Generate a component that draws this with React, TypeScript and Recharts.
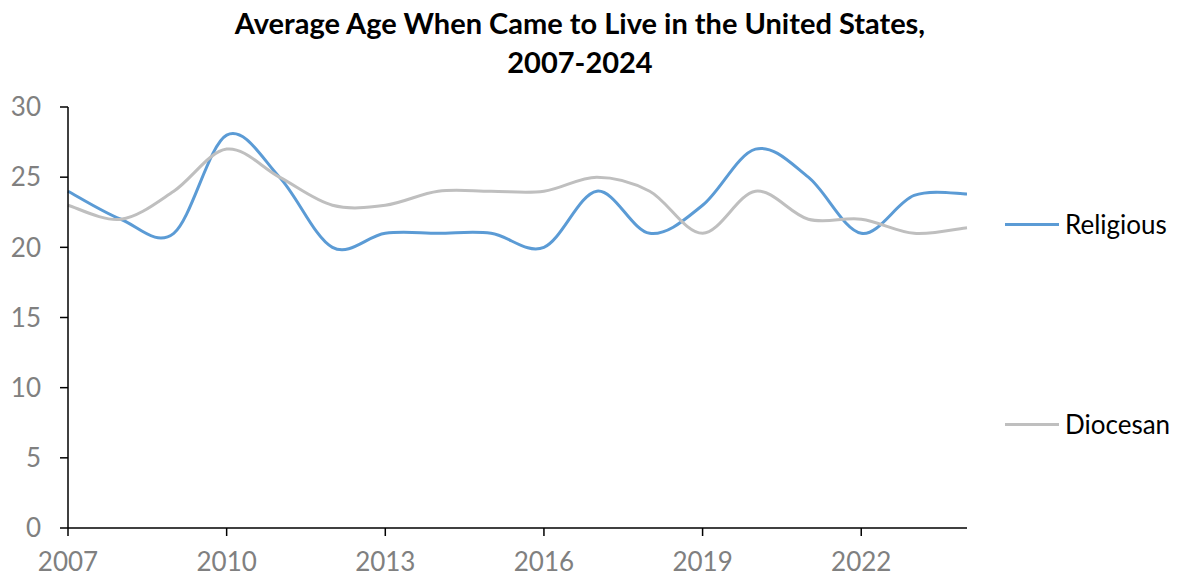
import React from "react"
import { Line, LineChart, XAxis, YAxis, Legend } from "recharts"

const years = [2007, 2008, 2009, 2010, 2011, 2012, 2013, 2014, 2015, 2016, 2017, 2018, 2019, 2020, 2021, 2022, 2023, 2024]
const religious = [24, 22, 21, 28, 25, 20, 21, 21, 21, 20, 24, 21, 23, 27, 25, 21, 23.7, 23.8]
const diocesan = [23, 22, 24, 27, 25, 23, 23, 24, 24, 24, 25, 24, 21, 24, 22, 22, 21, 21.4]
const seriesNames = ["Religious", "Diocesan"]
const xTicks = [2007, 2010, 2013, 2016, 2019, 2022]
const yTicks = [0, 5, 10, 15, 20, 25, 30]

const data = years.map((year, i) => ({ year, religious: religious[i], diocesan: diocesan[i] }))

const FONT = "Lato, 'Open Sans', sans-serif"

// Excel-style smoothing (Catmull-Rom through every point)
const excelSmooth = (context: any) => {
  let pts: number[][] = []
  return {
    areaStart() {},
    areaEnd() {},
    lineStart() {
      pts = []
    },
    point(x: number, y: number) {
      pts.push([+x, +y])
    },
    lineEnd() {
      const n = pts.length
      if (!n) return
      context.moveTo(pts[0][0], pts[0][1])
      for (let i = 0; i < n - 1; i++) {
        const p0 = pts[Math.max(i - 1, 0)]
        const p1 = pts[i]
        const p2 = pts[i + 1]
        const p3 = pts[Math.min(i + 2, n - 1)]
        context.bezierCurveTo(
          p1[0] + (p2[0] - p0[0]) / 6,
          p1[1] + (p2[1] - p0[1]) / 6,
          p2[0] - (p3[0] - p1[0]) / 6,
          p2[1] - (p3[1] - p1[1]) / 6,
          p2[0],
          p2[1]
        )
      }
    },
  }
}

const renderLegend = ({ payload }: any) => {
  const items = [...(payload || [])].sort(
    (a: any, b: any) => seriesNames.indexOf(a.value) - seriesNames.indexOf(b.value)
  )
  return (
    <div>
      {items.map((entry: any, i: number) => (
        <div
          key={entry.value}
          style={{ display: "flex", alignItems: "center", height: 30, marginBottom: i === 0 ? 170 : 0 }}
        >
          <span
            style={{ display: "inline-block", width: 54, height: 3, background: entry.color, marginRight: 6 }}
          />
          <span style={{ fontFamily: FONT, fontSize: 26, color: "#000" }}>{entry.value}</span>
        </div>
      ))}
    </div>
  )
}

export default function App() {
  return (
    <div style={{ position: "absolute", left: 0, top: 0, width: 1179, height: 580, background: "#fff" }}>
      <div
        style={{
          position: "absolute",
          left: 0,
          top: 3,
          width: 1160,
          textAlign: "center",
          fontFamily: FONT,
          fontWeight: 700,
          fontSize: 29,
          lineHeight: "39px",
          color: "#000",
        }}
      >
        Average Age When Came to Live in the United States,
        <br />
        2007-2024
      </div>
      <LineChart width={1179} height={580} data={data} margin={{ top: 107, right: 212, left: 0, bottom: 0 }}>
        <XAxis
          dataKey="year"
          type="number"
          domain={[2007, 2024]}
          ticks={xTicks}
          interval={0}
          axisLine={{ stroke: "#000", strokeWidth: 1.5 }}
          tickLine={{ stroke: "#000", strokeWidth: 1.5 }}
          tickSize={8}
          tickMargin={17}
          height={52}
          tick={{ fontSize: 26, fill: "#808080", fontFamily: FONT }}
        />
        <YAxis
          domain={[0, 30]}
          ticks={yTicks}
          interval={0}
          width={68}
          axisLine={{ stroke: "#000", strokeWidth: 1.5 }}
          tickLine={{ stroke: "#000", strokeWidth: 1.5 }}
          tickSize={8}
          tickMargin={19}
          tick={{ fontSize: 26, fill: "#808080", fontFamily: FONT }}
        />
        <Legend
          layout="vertical"
          align="center"
          verticalAlign="middle"
          content={renderLegend}
          wrapperStyle={{ left: 1005, top: 209, width: 174 }}
        />
        <Line
          dataKey="religious"
          name="Religious"
          stroke="#5B9BD5"
          strokeWidth={3}
          dot={false}
          type={excelSmooth as any}
          isAnimationActive={false}
        />
        <Line
          dataKey="diocesan"
          name="Diocesan"
          stroke="#BFBFBF"
          strokeWidth={3}
          dot={false}
          type={excelSmooth as any}
          isAnimationActive={false}
        />
      </LineChart>
    </div>
  )
}
